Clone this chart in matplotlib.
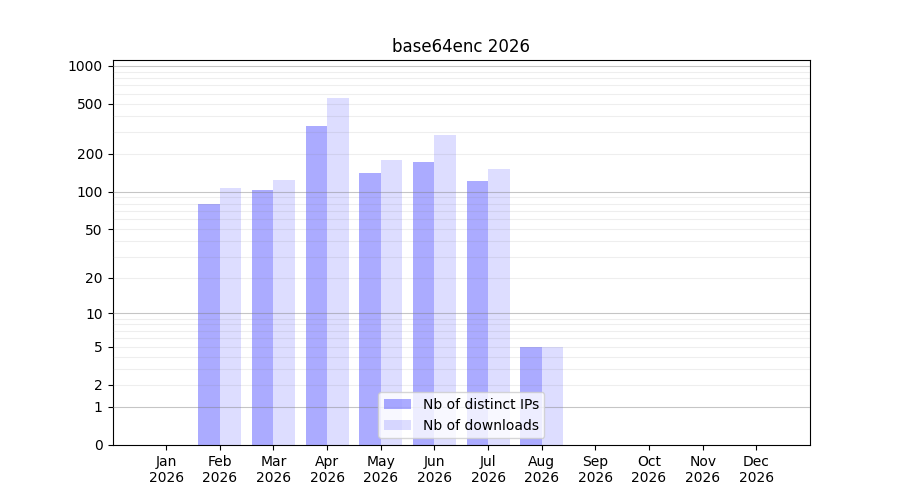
import numpy as np
import matplotlib
matplotlib.use("Agg")
import matplotlib.pyplot as plt

months = ["Jan", "Feb", "Mar", "Apr", "May", "Jun",
          "Jul", "Aug", "Sep", "Oct", "Nov", "Dec"]
year = "2026"
distinct_ips = [0, 79, 103, 333, 140, 172, 121, 5, 0, 0, 0, 0]
downloads = [0, 108, 123, 556, 178, 282, 151, 5, 0, 0, 0, 0]
ytick_values = [0, 1, 2, 5, 10, 20, 50, 100, 200, 500, 1000]


def fwd(v):
    return np.log10(1 + np.clip(v, 0, None))


def inv(v):
    return 10 ** v - 1


fig, ax = plt.subplots(figsize=(9, 5), dpi=100)

x = np.arange(len(months))
width = 0.4
ax.bar(x - width / 2, distinct_ips, width, color="blue", alpha=0.33,
       label="Nb of distinct IPs")
ax.bar(x + width / 2, downloads, width, color="blue", alpha=0.135,
       label="Nb of downloads")

ax.set_yscale("function", functions=(fwd, inv))
ax.set_ylim(0, 2 * max(downloads))
ax.set_yticks(ytick_values)
ax.set_yticklabels([str(v) for v in ytick_values])

# grid drawn over the bars: darker at decades, faint in between
for dec in [1, 10, 100]:
    ax.axhline(dec, color="grey", alpha=0.45, lw=0.8, zorder=3)
    for k in range(2, 10):
        ax.axhline(dec * k, color="grey", alpha=0.13, lw=0.8, zorder=3)
ax.axhline(1000, color="grey", alpha=0.45, lw=0.8, zorder=3)

ax.set_xticks(x)
ax.set_xticklabels([m + "\n" + year for m in months])
ax.set_xlim(-1, len(months))

ax.set_title("base64enc " + year)
ax.legend(loc="lower center")

fig.savefig("out.png")
